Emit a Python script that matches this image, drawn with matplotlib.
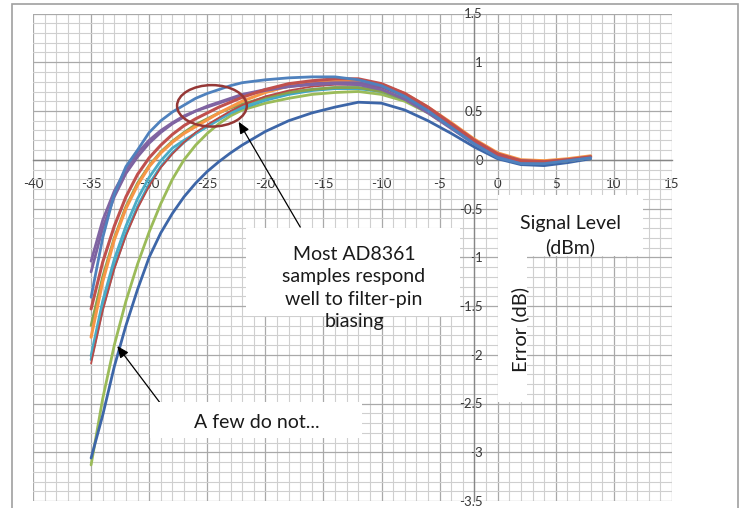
import matplotlib
matplotlib.use("Agg")
import matplotlib.pyplot as plt
from matplotlib.patches import Ellipse, Rectangle
from matplotlib.ticker import MultipleLocator

plt.rcParams['font.family'] = ['Lato', 'DejaVu Sans']

# ---------------- data ----------------
x_dbm = [-35, -34, -33, -32, -31, -30, -29, -28, -27, -26, -25, -24, -23, -22,
         -20, -18, -16, -14, -12, -10, -8, -6, -4, -2, 0, 2, 4, 6, 8]

purple_a = [-1.04, -0.62, -0.32, -0.10, 0.07, 0.20, 0.30, 0.38, 0.45, 0.50, 0.55, 0.59, 0.63, 0.67,
            0.72, 0.75, 0.77, 0.78, 0.77, 0.72, 0.62, 0.48, 0.32, 0.16, 0.03, -0.03, -0.03, -0.01, 0.02]
purple_b = [-1.15, -0.70, -0.38, -0.14, 0.03, 0.17, 0.28, 0.37, 0.44, 0.50, 0.54, 0.58, 0.62, 0.66,
            0.71, 0.75, 0.78, 0.79, 0.79, 0.75, 0.66, 0.52, 0.35, 0.18, 0.05, -0.01, -0.02, 0.00, 0.03]
red_h = [-2.09, -1.55, -1.12, -0.78, -0.50, -0.27, -0.08, 0.06, 0.18, 0.28, 0.36, 0.43, 0.50, 0.56,
         0.65, 0.71, 0.75, 0.77, 0.77, 0.74, 0.65, 0.52, 0.36, 0.20, 0.06, -0.01, -0.02, 0.00, 0.03]
aqua_i = [-2.05, -1.52, -1.10, -0.76, -0.48, -0.25, -0.07, 0.07, 0.18, 0.27, 0.35, 0.42, 0.48, 0.53,
          0.61, 0.67, 0.71, 0.73, 0.73, 0.70, 0.62, 0.49, 0.34, 0.18, 0.04, -0.02, -0.03, -0.01, 0.02]
aqua_g = [-2.01, -1.45, -1.02, -0.68, -0.40, -0.18, -0.01, 0.12, 0.20, 0.27, 0.34, 0.41, 0.48, 0.54,
          0.62, 0.69, 0.72, 0.74, 0.74, 0.71, 0.63, 0.50, 0.35, 0.19, 0.05, -0.02, -0.03, -0.01, 0.02]
olive_e = [-1.70, -1.20, -0.80, -0.48, -0.24, -0.06, 0.08, 0.19, 0.28, 0.36, 0.42, 0.48, 0.53, 0.57,
           0.64, 0.69, 0.72, 0.74, 0.74, 0.70, 0.62, 0.49, 0.34, 0.18, 0.05, -0.02, -0.03, -0.01, 0.02]
orange_f = [-1.82, -1.25, -0.82, -0.50, -0.26, -0.07, 0.07, 0.18, 0.27, 0.34, 0.41, 0.48, 0.54, 0.60,
            0.69, 0.755, 0.79, 0.81, 0.81, 0.77, 0.68, 0.54, 0.38, 0.21, 0.07, 0.00, -0.01, 0.01, 0.04]
red_d = [-1.53, -1.05, -0.68, -0.38, -0.15, 0.02, 0.15, 0.26, 0.35, 0.42, 0.48, 0.54, 0.59, 0.64,
         0.72, 0.78, 0.81, 0.83, 0.83, 0.78, 0.68, 0.54, 0.37, 0.20, 0.06, -0.01, -0.02, 0.00, 0.03]
blue_c = [-1.41, -0.80, -0.35, -0.07, 0.10, 0.28, 0.40, 0.49, 0.56, 0.63, 0.68, 0.72, 0.76, 0.79,
          0.82, 0.84, 0.85, 0.85, 0.82, 0.76, 0.65, 0.50, 0.33, 0.16, 0.02, -0.04, -0.04, -0.01, 0.02]
green_k = [-3.13, -2.45, -1.90, -1.45, -1.07, -0.74, -0.45, -0.20, 0.00, 0.15, 0.27, 0.37, 0.45, 0.51,
           0.58, 0.63, 0.67, 0.69, 0.70, 0.67, 0.60, 0.48, 0.33, 0.17, 0.04, -0.02, -0.03, -0.01, 0.02]
darkblue_j = [-3.06, -2.62, -2.12, -1.70, -1.33, -1.00, -0.75, -0.55, -0.38, -0.24, -0.12, -0.02, 0.07, 0.15,
              0.29, 0.40, 0.48, 0.54, 0.59, 0.58, 0.51, 0.40, 0.27, 0.13, 0.01, -0.05, -0.06, -0.03, 0.01]

series = [
    (green_k, '#9BBB59', 2.0),
    (darkblue_j, '#3D66A8', 2.0),
    (aqua_i, '#3FA6C4', 2.0),
    (aqua_g, '#4BACC6', 2.0),
    (olive_e, '#87A34C', 2.0),
    (red_h, '#B84A47', 1.3),
    (orange_f, '#F79646', 2.2),
    (purple_b, '#7D62A0', 2.0),
    (purple_a, '#8064A2', 2.0),
    (red_d, '#C0504D', 2.2),
    (blue_c, '#4F81BD', 2.0),
]

x_ticks = [-40, -35, -30, -25, -20, -15, -10, -5, 0, 5, 10, 15]
y_ticks = [-3.5, -3, -2.5, -2, -1.5, -1, -0.5, 0, 0.5, 1, 1.5]
x_labels = ['-40', '-35', '-30', '-25', '-20', '-15', '-10', '-5', '0', '5', '10', '15']
y_labels = ['-3.5', '-3', '-2.5', '-2', '-1.5', '-1', '-0.5', '0', '0.5', '1', '1.5']

# ---------------- figure ----------------
W, H = 743, 508
fig = plt.figure(figsize=(W / 100, H / 100), dpi=100)
fig.patch.set_facecolor('white')


def fx(px):
    return px / W


def fy(py):
    return 1 - py / H


ax = fig.add_axes([fx(33), fy(501), (672 - 33) / W, (501 - 13.5) / H])
ax.set_xlim(-40, 15)
ax.set_ylim(-3.5, 1.5)
ax.set_facecolor('white')

ax.xaxis.set_major_locator(MultipleLocator(5))
ax.xaxis.set_minor_locator(MultipleLocator(1))
ax.yaxis.set_major_locator(MultipleLocator(0.5))
ax.yaxis.set_minor_locator(MultipleLocator(0.1))
ax.set_xticks(x_ticks)
ax.set_xticklabels(x_labels)
ax.set_yticks(y_ticks)
ax.set_yticklabels(y_labels)

ax.grid(which='minor', color='#CFCFCF', lw=0.8, zorder=0)
ax.grid(which='major', color='#A9A9A9', lw=0.9, zorder=0)
ax.set_axisbelow(True)

for s in ['top', 'right']:
    ax.spines[s].set_visible(False)
ax.spines['left'].set_position(('data', -2))
ax.spines['bottom'].set_position(('data', 0))
for s in ['left', 'bottom']:
    ax.spines[s].set_color('#868686')
    ax.spines[s].set_linewidth(1.0)

ax.tick_params(which='both', length=0)
ax.tick_params(axis='x', pad=13, labelsize=9.5, labelcolor='#383838')
ax.tick_params(axis='y', pad=-6, labelsize=9.5, labelcolor='#383838')
for lab in ax.get_yticklabels():
    lab.set_horizontalalignment('right')

for vals, col, lw in series:
    ax.plot(x_dbm, vals, color=col, lw=lw, solid_capstyle='round', zorder=3)

# circle
ax.add_patch(Ellipse((-24.6, 0.553), 6.0, 0.425, fill=False, edgecolor='#953735',
                     lw=1.8, zorder=5))

# arrows
arrow_kw = dict(arrowstyle='-|>,head_length=0.7,head_width=0.3', color='black', lw=0.9,
                shrinkA=0, shrinkB=0)
ax.annotate('', xy=(-22.3, 0.39), xytext=(-17.0, -0.69), arrowprops=arrow_kw, zorder=6)
ax.annotate('', xy=(-32.75, -1.91), xytext=(-28.2, -2.63), arrowprops=arrow_kw, zorder=6)


# text boxes
def box(x0, y0, x1, y1):
    fig.add_artist(Rectangle((fx(x0), fy(y1)), (x1 - x0) / W, (y1 - y0) / H,
                             transform=fig.transFigure, facecolor='white',
                             edgecolor='none', zorder=2))


box(246, 228, 460, 316)
box(498, 195, 643, 256)
box(498, 250, 527, 402)
box(150, 402, 362, 438)

tkw = dict(ha='center', va='center', color='#1a1a1a', zorder=4)
fig.text(fx(354), fy(288), 'Most AD8361\nsamples respond\nwell to filter-pin\nbiasing',
         linespacing=1.37, fontsize=14, **tkw)
fig.text(fx(570), fy(236), 'Signal Level\n(dBm)', linespacing=1.42, fontsize=14, **tkw)
fig.text(fx(520), fy(329), 'Error (dB)', rotation=90, fontsize=14.5, **tkw)
fig.text(fx(257), fy(422), 'A few do not...', fontsize=14, **tkw)

# outer border
fig.add_artist(Rectangle((fx(12), -0.05), (738 - 12) / W, fy(4) + 0.05,
                         transform=fig.transFigure, fill=False,
                         edgecolor='#A0A0A0', lw=1.2, zorder=1))

fig.savefig('out.png', dpi=100, facecolor='white')
